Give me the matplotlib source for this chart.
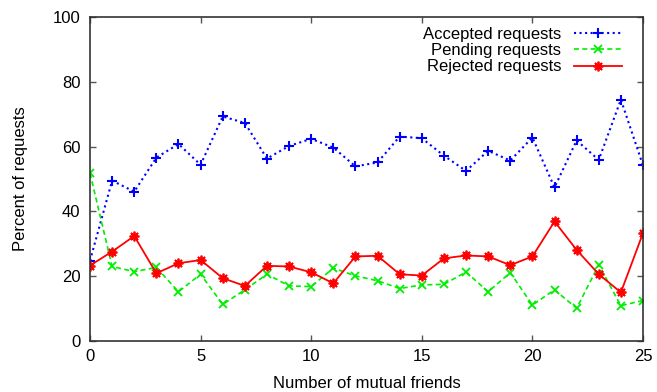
import numpy as np
import matplotlib
matplotlib.use("Agg")
import matplotlib.pyplot as plt

# --------------------------------------------------------------------------------
# DATA
# --------------------------------------------------------------------------------
mutual_friends = list(range(26))

accepted = [24.8, 49.5, 46.1, 56.6, 60.8, 54.4, 69.3, 67.3, 56.3, 60.2,
            62.4, 59.7, 53.9, 55.1, 63.1, 62.6, 57.2, 52.5, 58.7, 55.7,
            62.8, 47.4, 61.9, 55.9, 74.5, 54.2]
pending = [51.8, 23.0, 21.4, 22.7, 15.2, 20.6, 11.3, 15.8, 20.6, 17.0,
           16.8, 22.5, 20.1, 18.6, 16.2, 17.3, 17.5, 21.3, 15.2, 21.1,
           11.1, 15.8, 10.1, 23.5, 10.9, 12.5]
rejected = [23.3, 27.6, 32.4, 20.9, 24.0, 25.0, 19.4, 17.0, 23.2, 23.0,
            21.2, 17.8, 26.1, 26.3, 20.6, 20.2, 25.5, 26.4, 26.1, 23.4,
            26.1, 36.9, 28.1, 20.6, 15.0, 33.3]

x_ticks = [0, 5, 10, 15, 20, 25]
y_ticks = [0, 20, 40, 60, 80, 100]

# --------------------------------------------------------------------------------
# PLOT
# --------------------------------------------------------------------------------
plt.rcParams['font.family'] = ['Liberation Sans', 'DejaVu Sans']

fig = plt.figure(figsize=(6.57, 3.92), dpi=100)
ax = fig.add_axes([90/657, 51/392, 553/657, 324/392])

ax.plot(mutual_friends, accepted, color='#0000ff', linestyle=':', linewidth=1.5,
        marker='+', markersize=7, markeredgewidth=1.5, label="Accepted requests")
ax.plot(mutual_friends, pending, color='#00ee00', linestyle='--', linewidth=1.2,
        dashes=(3, 2), marker='x', markersize=6, markeredgewidth=1.3, label="Pending requests")
ax.plot(mutual_friends, rejected, color='#ff0000', linestyle='-', linewidth=1.3,
        marker=(8, 2, 0), markersize=7, markeredgewidth=1.3, label="Rejected requests")

ax.set_xlim(0, 25)
ax.set_ylim(0, 100)
ax.set_xticks(x_ticks)
ax.set_yticks(y_ticks)
ax.tick_params(direction='in', top=True, right=True, length=4, width=1,
               labelsize=12, color='#555555')
ax.tick_params(axis='y', pad=7)
ax.tick_params(axis='x', pad=6)
for s in ax.spines.values():
    s.set_linewidth(1.2)
    s.set_color('#333333')

ax.set_xlabel("Number of mutual friends", fontsize=12, labelpad=8.5)
ax.set_ylabel("Percent of requests", fontsize=12, labelpad=18)

ax.legend(loc='upper right', bbox_to_anchor=(0.962, 0.97), frameon=False,
          markerfirst=False, fontsize=12, handlelength=2.9, labelspacing=0.08,
          borderaxespad=0.0, handletextpad=0.75, borderpad=0.0)

plt.savefig("out.png", dpi=100)
